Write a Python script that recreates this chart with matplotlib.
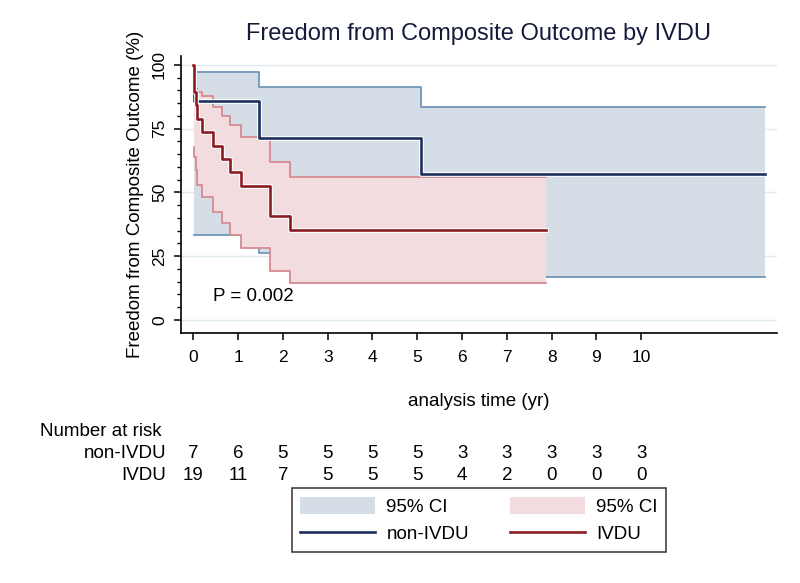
import matplotlib
matplotlib.use("Agg")
import matplotlib.pyplot as plt
import matplotlib.transforms as mtransforms
from matplotlib.patches import Patch
from matplotlib.lines import Line2D
import matplotlib.patheffects as pe

plt.rcParams['font.family'] = ['Liberation Sans', 'DejaVu Sans']

# ---------------- data ----------------
# non-IVDU Kaplan-Meier estimate (%)
t_non = [0, 0.02, 1.47, 5.08, 12.76]
s_non = [100, 85.7, 71.4, 57.1, 57.1]
# non-IVDU 95% CI
ci_t_non = [0.02, 1.47, 5.08, 12.76]
ci_hi_non = [97.4, 91.5, 83.4, 83.4]
ci_lo_non = [33.3, 26.1, 17.0, 17.0]

# IVDU Kaplan-Meier estimate (%)
t_ivdu = [0, 0.01, 0.02, 0.06, 0.08, 0.20, 0.44, 0.63, 0.81, 1.06, 1.71, 2.16, 7.88]
s_ivdu = [100, 94.7, 89.5, 84.2, 78.9, 73.7, 68.4, 63.2, 57.9, 52.6, 40.9, 35.1, 35.1]
# IVDU 95% CI
ci_t_ivdu = [0.01, 0.02, 0.06, 0.08, 0.20, 0.44, 0.63, 0.81, 1.06, 1.71, 2.16, 7.88]
ci_hi_ivdu = [96.5, 93.5, 91.0, 89.5, 87.8, 83.7, 79.9, 76.5, 71.9, 62.0, 56.2, 56.2]
ci_lo_ivdu = [68.0, 64.0, 58.8, 52.9, 48.4, 42.5, 37.9, 33.3, 28.1, 19.3, 14.6, 14.6]

# number at risk table
risk_times = [0, 1, 2, 3, 4, 5, 6, 7, 8, 9, 10]
risk_non = [7, 6, 5, 5, 5, 5, 3, 3, 3, 3, 3]
risk_ivdu = [19, 11, 7, 5, 5, 5, 4, 2, 0, 0, 0]

y_ticks = [0, 25, 50, 75, 100]
x_ticks = [0, 1, 2, 3, 4, 5, 6, 7, 8, 9, 10]
p_text = "P = 0.002"

# ---------------- styling ----------------
blue_fill = '#d5dee7'
blue_edge = '#7196b8'
red_fill = '#f2dcdf'
red_edge = '#d58a90'
navy = '#1c2f5e'
dred = '#8c1c24'
grid_c = '#dde9ef'
FT = 12.5   # tick labels
FS = 13.5   # other text

fig = plt.figure(figsize=(8, 5.83), dpi=100)
ax = fig.add_axes([181/800, 1-333/583, (777-181)/800, (333-56)/583])

for y in y_ticks:
    ax.axhline(y, color=grid_c, lw=1.0, zorder=0)

# CI bands
ax.fill_between(ci_t_non, ci_lo_non, ci_hi_non, step='post', color=blue_fill, lw=0, zorder=1)
ax.step(ci_t_non, ci_hi_non, where='post', color=blue_edge, lw=1.3, zorder=1.5)
ax.step(ci_t_non, ci_lo_non, where='post', color=blue_edge, lw=1.3, zorder=1.5)

ax.fill_between(ci_t_ivdu, ci_lo_ivdu, ci_hi_ivdu, step='post', color=red_fill, lw=0, zorder=2)
ax.step(ci_t_ivdu, ci_hi_ivdu, where='post', color=red_edge, lw=1.3, zorder=2.5)
ax.step(ci_t_ivdu, ci_lo_ivdu, where='post', color=red_edge, lw=1.3, zorder=2.5)

halo = [pe.Stroke(linewidth=3.4, foreground='white'), pe.Normal()]
ax.step(t_non, s_non, where='post', color=navy, lw=1.9, zorder=3, path_effects=halo)
ax.step(t_ivdu, s_ivdu, where='post', color=dred, lw=1.9, zorder=3, path_effects=halo)

ax.text(0.44, 9.4, p_text, fontsize=FS, va='center', ha='left', color='black')

ax.set_xlim(-0.275, 13.03)
ax.set_ylim(-5.1, 103.5)
ax.set_xticks(x_ticks)
ax.set_yticks(y_ticks)
ax.set_yticks(range(0, 101, 5), minor=True)
ax.tick_params(axis='both', which='major', labelsize=FT, length=5, width=1.1, color='black')
ax.tick_params(axis='x', pad=7)
ax.tick_params(axis='y', pad=5)
ax.tick_params(axis='y', which='minor', length=3, width=1.0)
for lab in ax.get_yticklabels():
    lab.set_rotation(90)
    lab.set_va('center')
for s in ['top', 'right']:
    ax.spines[s].set_visible(False)
for s in ['left', 'bottom']:
    ax.spines[s].set_linewidth(1.2)

ax.set_ylabel('Freedom from Composite Outcome (%)', fontsize=FS, labelpad=6)
fig.text(479/800, 1-34/583, 'Freedom from Composite Outcome by IVDU', fontsize=17,
         ha='center', va='center', color='#151a3a')

# x-axis title and risk table
fig.text(479/800, 1-401/583, 'analysis time (yr)', fontsize=FS, ha='center', va='center')
fig.text(40/800, 1-431/583, 'Number at risk', fontsize=FS, ha='left', va='center')
trans = mtransforms.blended_transform_factory(ax.transData, fig.transFigure)
fig.text(166/800, 1-454/583, 'non-IVDU', fontsize=FS, ha='right', va='center')
fig.text(166/800, 1-476/583, 'IVDU', fontsize=FS, ha='right', va='center')
for tt, a, b in zip(risk_times, risk_non, risk_ivdu):
    ax.text(tt, 1-454/583, str(a), transform=trans, fontsize=FS, ha='center', va='center')
    ax.text(tt, 1-476/583, str(b), transform=trans, fontsize=FS, ha='center', va='center')

handles = [Patch(facecolor=blue_fill, edgecolor='none'),
           Line2D([], [], color=navy, lw=1.9),
           Patch(facecolor=red_fill, edgecolor='none'),
           Line2D([], [], color=dred, lw=1.9)]
labels = ['95% CI', 'non-IVDU', '95% CI', 'IVDU']
leg = fig.legend(handles, labels, ncol=2, loc='center', bbox_to_anchor=(479/800, 1-520/583),
                 fontsize=FS, frameon=True, fancybox=False, handlelength=4.0,
                 handleheight=1.07, handletextpad=0.6, labelspacing=0.43,
                 columnspacing=2.2, borderpad=0.45)
leg.get_frame().set_edgecolor('black')
leg.get_frame().set_linewidth(1.1)

fig.savefig('out.png', dpi=100)
